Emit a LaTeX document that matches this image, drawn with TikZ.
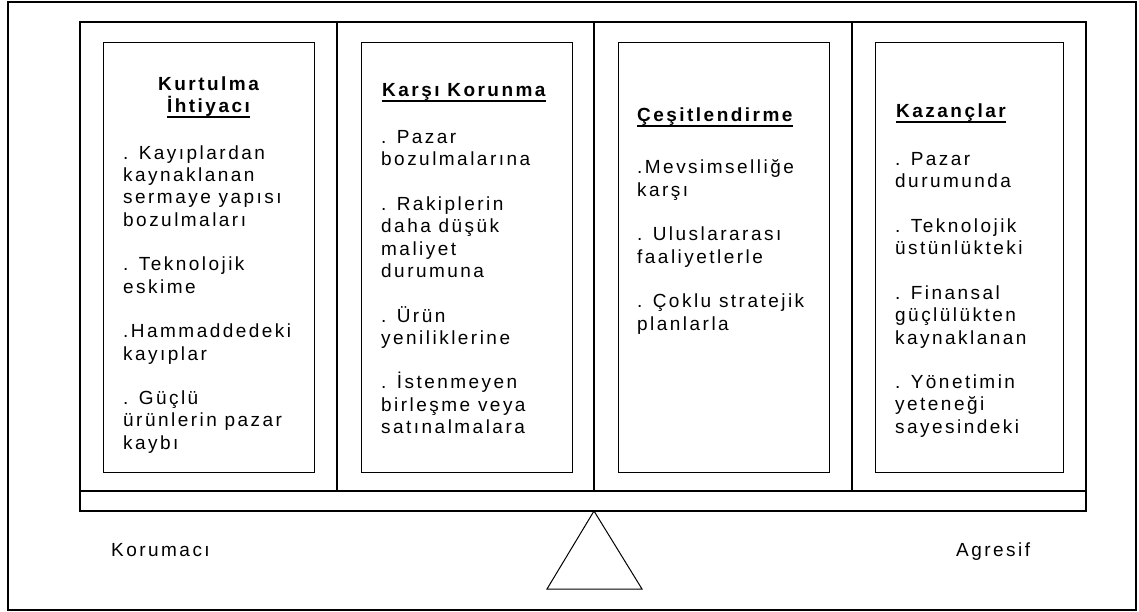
\documentclass[tikz,border=0pt]{standalone}
\usepackage{fontspec}
\setmainfont{Liberation Sans}[LetterSpace=13]
\tikzset{
  frame/.style={line width=2pt},
  panel/.style={line width=1.4pt},
  box/.style={draw,line width=1.4pt,inner sep=0pt,anchor=north west,minimum height=430pt},
  title/.style={font=\fontsize{19}{22.3}\selectfont\bfseries,inner sep=0pt,anchor=base west},
  body/.style={font=\fontsize{19}{22.3}\selectfont,align=left,inner sep=0pt,anchor=north west},
  side/.style={font=\fontsize{19}{22.3}\selectfont,inner sep=0pt,anchor=base west},
  ulbar/.style={line width=2pt}
}
\begin{document}
\begin{tikzpicture}[x=1pt,y=-1pt,line join=miter]
	\useasboundingbox (0,0) rectangle (1139,612);
	% frame and beam
	\draw[frame] (8,2) rectangle (1136,610);
	\draw[panel] (80,22) rectangle (1086,511);
	\draw[panel] (80,491) -- (1086,491);
	\foreach \xd in {337,594,852}
		\draw[panel] (\xd,22) -- (\xd,491);
	\draw[line width=1pt] (594,511) -- (547,589) -- (642,589) -- cycle;
	% the four boxes
	\node[box,minimum width=211pt] (box1) at (103,42) {};
	\node[box,minimum width=211pt] (box2) at (361,42) {};
	\node[box,minimum width=211pt] (box3) at (618,42) {};
	\node[box,minimum width=188pt] (box4) at (875,42) {};
	% titles
	\node[title,anchor=base] (kurt) at (208.5,91) {Kurtulma};
	\node[title,anchor=base] (ihti) at (208.5,112.7) {İhtiyacı};
	\node[title] (kars) at (382,97) {Karşı Korunma};
	\node[title] (cesi) at (637,122) {Çeşitlendirme};
	\node[title] (kaza) at (896,118) {Kazançlar};
	\foreach \t in {ihti,kars,cesi,kaza}
		\draw[ulbar] ([yshift=-4pt]\t.base west) -- ([yshift=-4pt]\t.base east);
	% item lists
	\node[body] (list1) at (123,145.4) {. Kayıplardan\\kaynaklanan\\sermaye yapısı\\bozulmaları\\[22.3pt]
		. Teknolojik\\eskime\\[22.3pt].Hammaddedeki\\kayıplar\\[22.3pt]. Güçlü\\ürünlerin pazar\\kaybı};
	\node[body] (list2) at (381,130.4) {. Pazar\\bozulmalarına\\[22.3pt]. Rakiplerin\\daha düşük\\maliyet\\durumuna\\[22.3pt]
		. Ürün\\yeniliklerine\\[22.3pt]. İstenmeyen\\birleşme veya\\satınalmalara};
	\node[body] (list3) at (637,159.7) {.Mevsimselliğe\\karşı\\[22.3pt]. Uluslararası\\faaliyetlerle\\[22.3pt]
		. Çoklu stratejik\\planlarla};
	\node[body] (list4) at (895,152.4) {. Pazar\\durumunda\\[22.3pt]. Teknolojik\\üstünlükteki\\[22.3pt]
		. Finansal\\güçlülükten\\kaynaklanan\\[22.3pt]. Yönetimin\\yeteneği\\sayesindeki};
	% ends of the scale
	\node[side] (koru) at (111,556) {Korumacı};
	\node[side] (agre) at (956,556) {Agresif};
\end{tikzpicture}
\end{document}
